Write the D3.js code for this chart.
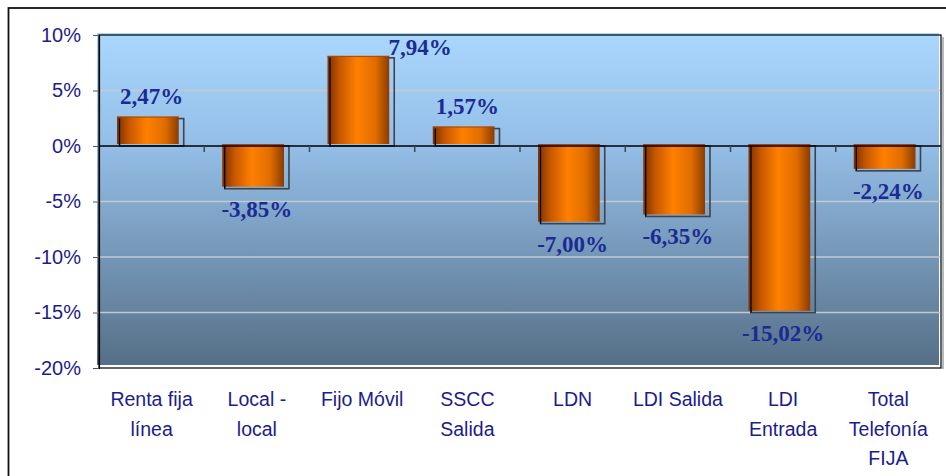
<!DOCTYPE html>
<html>
<head>
<meta charset="utf-8">
<script src="https://cdn.jsdelivr.net/npm/d3@7"></script>
<style>
  body { margin: 0; background: #fff; }
  svg { display: block; }
</style>
</head>
<body>
<div id="chart"></div>
<script>
// data
const categories = ["Renta fija\nlínea", "Local -\nlocal", "Fijo Móvil", "SSCC\nSalida", "LDN", "LDI Salida", "LDI\nEntrada", "Total\nTelefonía\nFIJA"];
const values = [2.47, -3.85, 7.94, 1.57, -7.00, -6.35, -15.02, -2.24];
const valueLabels = ["2,47%", "-3,85%", "7,94%", "1,57%", "-7,00%", "-6,35%", "-15,02%", "-2,24%"];
const yTicks = [-20, -15, -10, -5, 0, 5, 10];

const width = 946, height = 476;
const plot = {left: 99, top: 35, right: 941, bottom: 368};
const axisColor = '#1c1c8c';
const labelColor = '#1a2b94';

const svg = d3.select('#chart').append('svg')
  .attr('width', width)
  .attr('height', height);

const defs = svg.append('defs');

const bg = defs.append('linearGradient').attr('id', 'bg')
  .attr('x1', 0).attr('y1', 0).attr('x2', 0).attr('y2', 1);
bg.append('stop').attr('offset', '0%').attr('stop-color', '#aad7fe');
bg.append('stop').attr('offset', '35%').attr('stop-color', '#93bde6');
bg.append('stop').attr('offset', '100%').attr('stop-color', '#566f87');

const barGrad = defs.append('linearGradient').attr('id', 'bar')
  .attr('x1', 0).attr('y1', 0).attr('x2', 1).attr('y2', 0);
barGrad.append('stop').attr('offset', '0%').attr('stop-color', '#7a3000');
barGrad.append('stop').attr('offset', '20%').attr('stop-color', '#c85800');
barGrad.append('stop').attr('offset', '48%').attr('stop-color', '#ff8000');
barGrad.append('stop').attr('offset', '78%').attr('stop-color', '#e06c00');
barGrad.append('stop').attr('offset', '100%').attr('stop-color', '#8a3c00');

// outer chart border
svg.append('rect')
  .attr('x', 8.5).attr('y', 8)
  .attr('width', 945).attr('height', 480)
  .attr('fill', 'none')
  .attr('stroke', '#111')
  .attr('stroke-width', 1.8);

const x = d3.scaleBand()
  .domain(categories)
  .range([plot.left, plot.right])
  .paddingInner(0.39)
  .paddingOuter(0.195);

const y = d3.scaleLinear()
  .domain([-20, 10])
  .range([plot.bottom, plot.top]);

// plot background (shifted a bit, like the 3d wall)
svg.append('rect')
  .attr('x', plot.left - 2).attr('y', plot.top - 2)
  .attr('width', plot.right - plot.left).attr('height', plot.bottom - plot.top - 1)
  .attr('fill', 'url(#bg)');

// gridlines
svg.append('g')
  .selectAll('line')
  .data(yTicks.filter(d => d !== 0 && d !== -20 && d !== 10))
  .enter()
  .append('line')
  .attr('x1', plot.left - 2).attr('x2', plot.right - 1)
  .attr('y1', d => y(d)).attr('y2', d => y(d))
  .attr('stroke', '#c3c9d0')
  .attr('stroke-width', 1.5);

// frame
svg.append('rect')
  .attr('x', plot.left).attr('y', plot.top)
  .attr('width', plot.right - plot.left).attr('height', plot.bottom - plot.top)
  .attr('fill', 'none')
  .attr('stroke', '#000')
  .attr('stroke-width', 1.2);
svg.append('line')
  .attr('x1', plot.right + 2).attr('x2', plot.right + 2)
  .attr('y1', plot.top + 2).attr('y2', plot.bottom + 1)
  .attr('stroke', '#9aa4ae').attr('stroke-width', 1.5);

// y axis
const yAxis = d3.axisLeft(y)
  .tickValues(yTicks)
  .tickFormat(d => d + '%')
  .tickSize(6)
  .tickPadding(12);

const gy = svg.append('g')
  .attr('transform', `translate(${plot.left}, 0)`)
  .call(yAxis);
gy.select('.domain').attr('stroke', '#000').attr('stroke-width', 1.2);
gy.selectAll('.tick line').attr('stroke', '#555');
gy.selectAll('.tick text')
  .attr('fill', axisColor)
  .style('font-family', '"Liberation Sans", Arial, sans-serif')
  .style('font-size', '20px');

// bars: outline at the true place, face shifted up-left
const bars = svg.append('g')
  .selectAll('g')
  .data(values)
  .enter()
  .append('g');

bars.append('rect')
  .attr('x', (d, i) => x(categories[i]))
  .attr('y', d => y(Math.max(0, d)))
  .attr('width', x.bandwidth())
  .attr('height', d => Math.abs(y(d) - y(0)))
  .attr('fill', 'none')
  .attr('stroke', '#3a4450')
  .attr('stroke-width', 1.6);

bars.append('rect')
  .attr('x', (d, i) => x(categories[i]) - 2.5)
  .attr('y', d => y(Math.max(0, d)) - 2)
  .attr('width', x.bandwidth() - 2.5)
  .attr('height', d => Math.abs(y(d) - y(0)))
  .attr('fill', 'url(#bar)');

bars.append('line')
  .attr('x1', (d, i) => x(categories[i]) - 2.5)
  .attr('x2', (d, i) => x(categories[i]) + x.bandwidth() - 5)
  .attr('y1', d => y(Math.max(0, d)) - 1.5)
  .attr('y2', d => y(Math.max(0, d)) - 1.5)
  .attr('stroke', '#a84800')
  .attr('stroke-width', 1);

// left edge of the outline in black, over the face
bars.append('line')
  .attr('x1', (d, i) => x(categories[i]))
  .attr('x2', (d, i) => x(categories[i]))
  .attr('y1', d => y(Math.max(0, d)))
  .attr('y2', d => y(Math.min(0, d)))
  .attr('stroke', '#000')
  .attr('stroke-width', 1.2);

// zero line + category ticks
svg.append('line')
  .attr('x1', plot.left).attr('x2', plot.right)
  .attr('y1', y(0)).attr('y2', y(0))
  .attr('stroke', '#000')
  .attr('stroke-width', 1.4);

svg.append('g')
  .selectAll('line')
  .data(categories.slice(1))
  .enter()
  .append('line')
  .attr('x1', d => x(d) - x.step() * x.paddingInner() / 2)
  .attr('x2', d => x(d) - x.step() * x.paddingInner() / 2)
  .attr('y1', y(0)).attr('y2', y(0) + 6)
  .attr('stroke', '#3a4a5a')
  .attr('stroke-width', 1.5);

// value labels
const labelNudge = {2: 58};
svg.append('g')
  .selectAll('text')
  .data(values)
  .enter()
  .append('text')
  .attr('x', (d, i) => x(categories[i]) + x.bandwidth() / 2 + (labelNudge[i] || 0))
  .attr('y', (d, i) => {
    if (i === 2) return 55;
    return d >= 0 ? y(d) - 15 : y(d) + 28;
  })
  .attr('text-anchor', 'middle')
  .attr('fill', labelColor)
  .style('font-family', '"Liberation Serif", "Times New Roman", serif')
  .style('font-weight', 'bold')
  .style('font-size', '23px')
  .text((d, i) => valueLabels[i]);

// category labels
const cat = svg.append('g')
  .selectAll('text')
  .data(categories)
  .enter()
  .append('text')
  .attr('x', d => x(d) + x.bandwidth() / 2)
  .attr('y', 406)
  .attr('text-anchor', 'middle')
  .attr('fill', axisColor)
  .style('font-family', '"Liberation Sans", Arial, sans-serif')
  .style('font-size', '19.5px');

cat.selectAll('tspan')
  .data(d => d.split('\n'))
  .enter()
  .append('tspan')
  .attr('x', function () { return d3.select(this.parentNode).attr('x'); })
  .attr('dy', (d, i) => i === 0 ? 0 : 29.5)
  .text(d => d);
</script>
</body>
</html>
